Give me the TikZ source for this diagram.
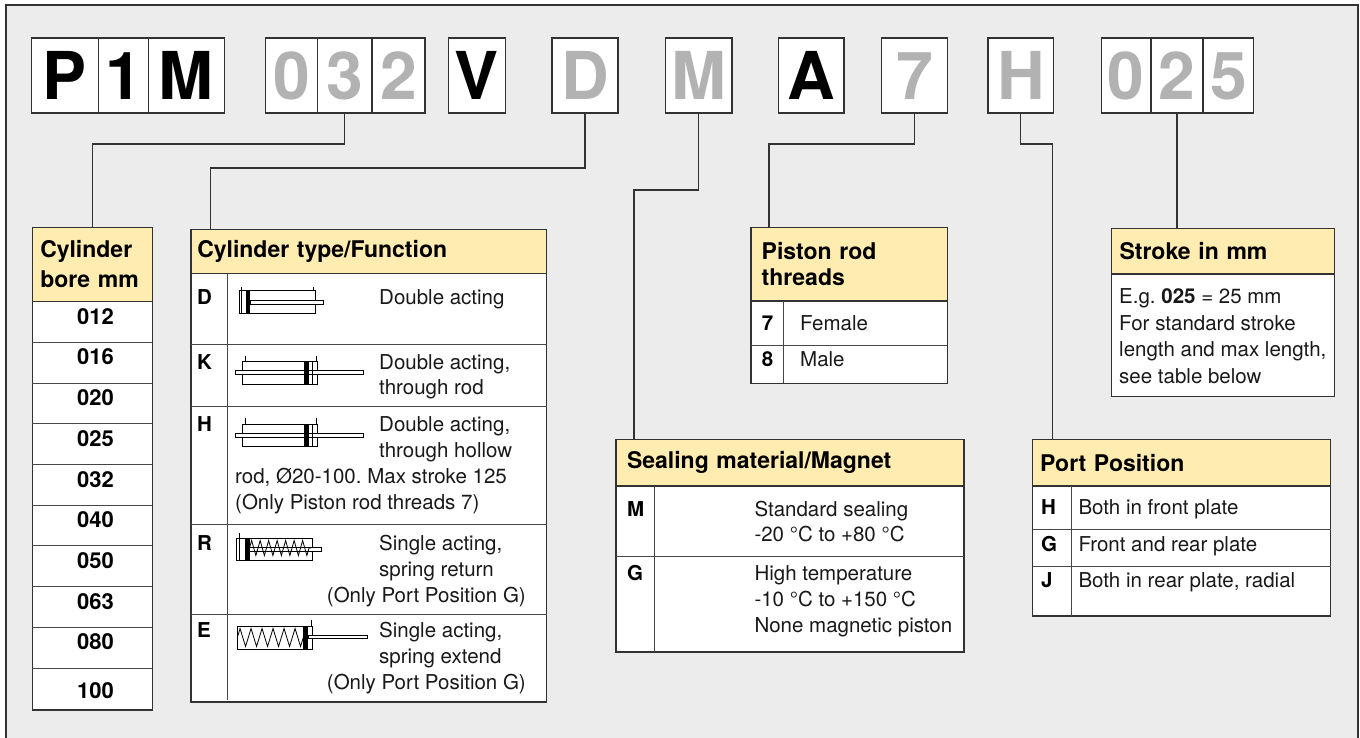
\documentclass[tikz,border=0pt]{standalone}
\usepackage{fontspec}
\setmainfont{TeX Gyre Heros}
\usetikzlibrary{positioning,decorations.pathmorphing}
\definecolor{framegrey}{RGB}{235,236,235}
\definecolor{headyellow}{RGB}{255,236,176}
\definecolor{lettergrey}{RGB}{178,178,178}
\definecolor{linegrey}{RGB}{50,50,50}
\definecolor{rowgrey}{RGB}{70,70,70}
\definecolor{textblack}{RGB}{25,25,25}
\frenchspacing

\begin{document}
\begin{tikzpicture}[x=1pt,y=-1pt,
  codebox/.style={draw=linegrey,line width=1.3pt,fill=white,inner sep=0pt,outer sep=0pt,minimum height=75pt,text height=47.5pt,text depth=0pt,font=\fontsize{66}{66}\selectfont\bfseries},
  fixed/.style={text=black},
  vary/.style={text=lettergrey},
  hdr/.style={draw=linegrey,line width=1.3pt,fill=headyellow,anchor=north west,inner sep=0pt,outer sep=0pt,align=left,font=\fontsize{23}{26}\selectfont\bfseries},
  tabbody/.style={draw=linegrey,line width=1.3pt,fill=white},
  tabrow/.style={draw=rowgrey,line width=1pt},
  txt/.style={anchor=base west,inner sep=0pt,font=\fontsize{20.5}{25}\selectfont,text=textblack},
  keyletter/.style={anchor=base west,inner sep=0pt,font=\fontsize{20.5}{25}\selectfont\bfseries},
  bornum/.style={anchor=base,inner sep=0pt,font=\fontsize{22}{25}\selectfont\bfseries},
  conn/.style={draw=linegrey,line width=1.2pt},
  icon/.style={draw=black,line width=0.8pt},
  spring/.style={icon,decorate,decoration={zigzag,amplitude=7.5pt,segment length=8.5pt}}]

  \useasboundingbox (0,0) rectangle (1360,738);
  \draw[line width=1.5pt,draw=linegrey,fill=framegrey] (6,5) rectangle (1358,760);

  % order code
  \node[codebox,fixed,minimum width=67.2pt,anchor=north west] (cP) at (31.2,38) {P};
  \node[codebox,fixed,minimum width=50.3pt,right=0pt of cP] (c1) {1};
  \node[codebox,fixed,minimum width=75.5pt,right=0pt of c1] (cM) {M};

  \node[codebox,vary,minimum width=52pt,anchor=north west] (cb0) at (265.4,38) {0};
  \node[codebox,vary,minimum width=54.7pt,right=0pt of cb0] (cb3) {3};
  \node[codebox,vary,minimum width=52.9pt,right=0pt of cb3] (cb2) {2};

  \node[codebox,fixed,minimum width=57.2pt,anchor=north west] (cV) at (448.4,38) {V};
  \node[codebox,vary,minimum width=66pt,anchor=north west] (cD) at (552,38) {D};
  \node[codebox,vary,minimum width=66.4pt,anchor=north west] (cSeal) at (665.6,38) {M};
  \node[codebox,fixed,minimum width=65.5pt,anchor=north west] (cA) at (778.4,38) {A};
  \node[codebox,vary,minimum width=66.4pt,anchor=north west] (cT) at (881.2,38) {7};
  \node[codebox,vary,minimum width=65.9pt,anchor=north west] (cPort) at (987.9,38) {H};

  \node[codebox,vary,minimum width=49.4pt,anchor=north west] (cs0) at (1101.5,38) {0};
  \node[codebox,vary,minimum width=52.1pt,right=0pt of cs0] (cs2) {2};
  \node[codebox,vary,minimum width=50.7pt,right=0pt of cs2] (cs5) {5};

  % table headers
  \node[hdr,minimum width=120pt,minimum height=74.4pt,text width=104pt] (boretab) at (32.3,227.3) {Cylinder\\[4pt]bore mm};
  \node[hdr,minimum width=355.7pt,minimum height=44pt,text width=343pt] (typetab) at (191,229.3) {Cylinder type/Function};
  \node[hdr,minimum width=196.3pt,minimum height=73.7pt,text width=175pt] (threadtab) at (751,227.3) {Piston rod\\threads};
  \node[hdr,minimum width=222.6pt,minimum height=45.7pt,text width=207pt] (stroketab) at (1111.7,228.3) {Stroke in mm};
  \node[hdr,minimum width=348pt,minimum height=46.7pt,text width=326pt] (sealtab) at (616,439.3) {Sealing material/Magnet};
  \node[hdr,minimum width=298pt,minimum height=46.7pt,text width=283pt] (porttab) at (1032.7,439.3) {Port Position};

  % connectors
  \draw[conn] (cb3.south) -- ++(0,31) -| (boretab.north);
  \draw[conn] (cD.south) -- ++(0,55) -| ([xshift=19.5pt]typetab.north west);
  \draw[conn] (cSeal.south) -- ++(0,77) -| ([xshift=18pt]sealtab.north west);
  \draw[conn] (cT.south) -- ++(0,31) -| ([xshift=18pt]threadtab.north west);
  \draw[conn] (cPort.south) -- ++(0,31) -| ([xshift=20pt]porttab.north west);
  \draw[conn] (cs2.south) -- (stroketab.north -| cs2.south);

  % cylinder bore
  \draw[tabbody] (boretab.south west) rectangle ++(120,408.3);
  \draw[tabrow] (32.3,342.4) -- (152.3,342.4);
  \draw[tabrow] (32.3,383.1) -- (152.3,383.1);
  \draw[tabrow] (32.3,423.8) -- (152.3,423.8);
  \draw[tabrow] (32.3,464.5) -- (152.3,464.5);
  \draw[tabrow] (32.3,505.2) -- (152.3,505.2);
  \draw[tabrow] (32.3,545.9) -- (152.3,545.9);
  \draw[tabrow] (32.3,586.6) -- (152.3,586.6);
  \draw[tabrow] (32.3,627.3) -- (152.3,627.3);
  \draw[tabrow] (32.3,668.0) -- (152.3,668.0);
  \node[bornum] (b012) at (95.5,324.2) {012};
  \node[bornum] (b016) at (95.5,364.9) {016};
  \node[bornum] (b020) at (95.5,405.6) {020};
  \node[bornum] (b025) at (95.5,446.3) {025};
  \node[bornum] (b032) at (95.5,487.0) {032};
  \node[bornum] (b040) at (95.5,527.7) {040};
  \node[bornum] (b050) at (95.5,568.4) {050};
  \node[bornum] (b063) at (95.5,609.1) {063};
  \node[bornum] (b080) at (95.5,649.8) {080};
  \node[bornum] (b100) at (95.5,698.6) {100};

  % cylinder type
  \draw[tabbody] (typetab.south west) rectangle ++(355.7,428.7);
  \draw[tabrow] (191,344) -- (546.7,344);
  \draw[tabrow] (191,406.7) -- (546.7,406.7);
  \draw[tabrow] (191,524.3) -- (546.7,524.3);
  \draw[tabrow] (191,614.3) -- (546.7,614.3);
  \draw[tabrow] (227.7,273.3) -- (227.7,700);
  \node[keyletter] (tD) at (197,304.1) {D};
  \node[keyletter] (tK) at (197,369.1) {K};
  \node[keyletter] (tH) at (197,431.4) {H};
  \node[keyletter] (tR) at (197,550) {R};
  \node[keyletter] (tE) at (197,637.4) {E};
  \node[txt] (tD1) at (379,304.1) {Double acting};
  \node[txt] (tK1) at (379,369.1) {Double acting,};
  \node[txt] (tK2) at (379,394.1) {through rod};
  \node[txt] (tH1) at (379,431.4) {Double acting,};
  \node[txt] (tH2) at (379,457.4) {through hollow};
  \node[txt] (tH3) at (235,483.4) {rod, Ø20-100. Max stroke 125};
  \node[txt] (tH4) at (235,509.4) {(Only Piston rod threads 7)};
  \node[txt] (tR1) at (379,550) {Single acting,};
  \node[txt] (tR2) at (379,576) {spring return};
  \node[txt,anchor=base east] (tR3) at (526,602) {(Only Port Position G)};
  \node[txt] (tE1) at (379,637.4) {Single acting,};
  \node[txt] (tE2) at (379,663.4) {spring extend};
  \node[txt,anchor=base east] (tE3) at (526,689.4) {(Only Port Position G)};

  % D symbol
  \draw[icon,fill=white] (239,290.7) rectangle (315.7,313.3);
  \draw[icon] (241.7,286.7) -- (241.7,313.3);
  \draw[icon] (313.3,286.7) -- (313.3,290.7);
  \fill (245.5,290.7) rectangle (250,313.3);
  \draw[icon,fill=white] (250,300) rectangle (323.3,304);

  % K symbol
  \draw[icon,fill=white] (242.3,361.7) rectangle (317.7,384);
  \draw[icon] (245,356) -- (245,361.7);
  \draw[icon] (316,356) -- (316,361.7);
  \draw[icon,fill=white] (235.7,370.7) rectangle (363.7,374.7);
  \fill (304,361.7) rectangle (309.3,384);
  \draw[icon] (312,361.7) -- (312,384);

  % H symbol
  \draw[icon,fill=white] (242.3,424) rectangle (317.7,446);
  \draw[icon] (245,418) -- (245,424);
  \draw[icon] (316,418) -- (316,424);
  \draw[icon,fill=white] (235.7,433) rectangle (363.7,437);
  \fill (304,424) rectangle (309.3,446);
  \draw[icon] (312,424) -- (312,446);

  % R symbol
  \draw[icon,fill=white] (236.7,538.3) rectangle (312.7,560.7);
  \draw[icon] (239,533) -- (239,560.7);
  \fill (244.5,538.3) rectangle (249.5,560.7);
  \draw[icon,fill=white] (249.5,547.7) rectangle (321.7,551);
  \draw[spring] (249.5,548) -- (311,548);

  % E symbol
  \draw[icon,fill=white] (237.3,626) rectangle (312.7,649);
  \draw[icon] (311,620) -- (311,626);
  \draw[spring,decoration={amplitude=9pt,segment length=11pt}] (237.3,637.5) -- (303.3,637.5);
  \fill (303.3,626) rectangle (308.3,649);
  \draw[icon,fill=white] (308.3,635) rectangle (367.7,638.5);

  % piston rod threads
  \draw[tabbody] (threadtab.south west) rectangle ++(196.3,82.3);
  \draw[tabrow] (751,345) -- (947.3,345);
  \draw[tabrow] (783.3,301) -- (783.3,383.3);
  \node[keyletter] (r7) at (761.7,330.1) {7};
  \node[keyletter] (r8) at (761.7,366.7) {8};
  \node[txt] (r7t) at (800,330.1) {Female};
  \node[txt] (r8t) at (800,366.7) {Male};

  % stroke
  \draw[tabbody] (stroketab.south west) rectangle ++(222.6,122.7);
  \node[txt] (s1) at (1119,303.4) {E.g.\ \textbf{025} = 25 mm};
  \node[txt] (s2) at (1119,330.1) {For standard stroke};
  \node[txt] (s3) at (1119,356.7) {length and max length,};
  \node[txt] (s4) at (1119,383.4) {see table below};

  % sealing
  \draw[tabbody] (sealtab.south west) rectangle ++(348,166);
  \draw[tabrow] (616,556) -- (964,556);
  \draw[tabrow] (654,486) -- (654,652);
  \node[keyletter] (mM) at (627,516.4) {M};
  \node[keyletter] (mG) at (627,580.4) {G};
  \node[txt] (mM1) at (754.3,516.4) {Standard sealing};
  \node[txt] (mM2) at (754.3,541.4) {-20 °C to +80 °C};
  \node[txt] (mG1) at (754.3,580.4) {High temperature};
  \node[txt] (mG2) at (754.3,606.4) {-10 °C to +150 °C};
  \node[txt] (mG3) at (754.3,632.4) {None magnetic piston};

  % port position
  \draw[tabbody] (porttab.south west) rectangle ++(298,130);
  \draw[tabrow] (1032.7,529.3) -- (1330.7,529.3);
  \draw[tabrow] (1032.7,566) -- (1330.7,566);
  \draw[tabrow] (1071,486) -- (1071,616);
  \node[keyletter] (pH) at (1041,514.7) {H};
  \node[keyletter] (pG) at (1041,551.4) {G};
  \node[keyletter] (pJ) at (1041,587.4) {J};
  \node[txt] (pH1) at (1078.3,514.7) {Both in front plate};
  \node[txt] (pG1) at (1078.3,551.4) {Front and rear plate};
  \node[txt] (pJ1) at (1078.3,587.4) {Both in rear plate, radial};
\end{tikzpicture}
\end{document}
